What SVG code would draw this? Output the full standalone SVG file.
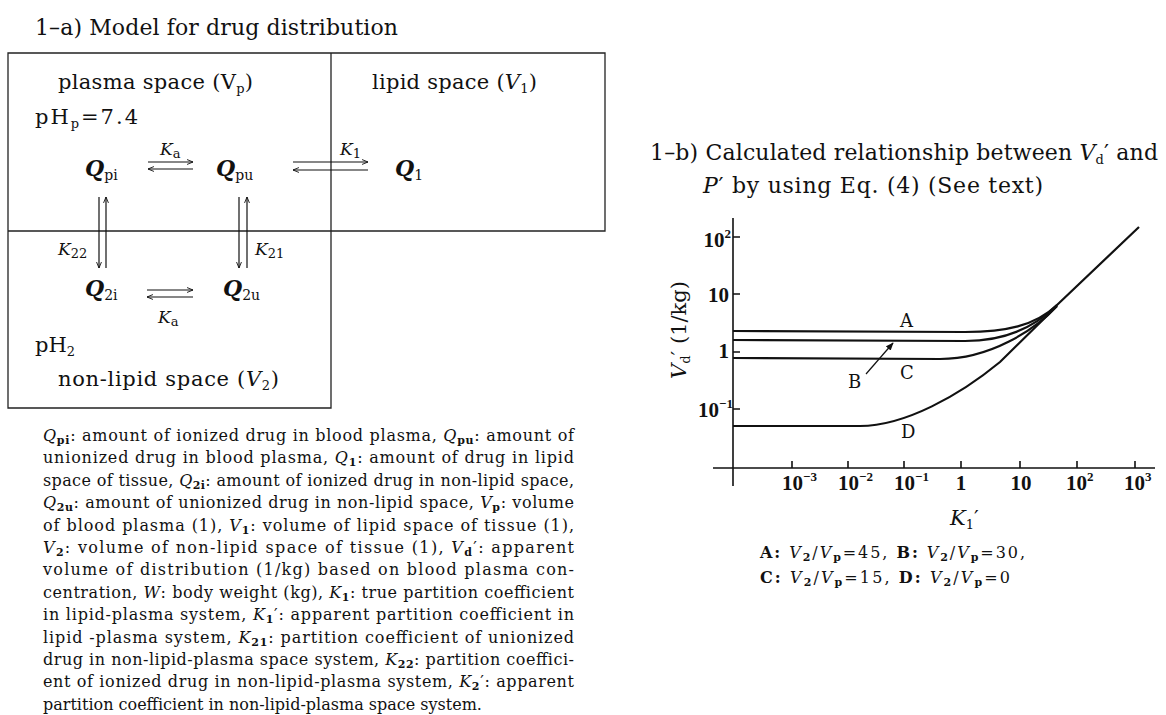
<svg xmlns="http://www.w3.org/2000/svg" width="1166" height="715" viewBox="0 0 1166 715">
<defs>
<marker id="ah" viewBox="0 0 10 10" refX="9.5" refY="5" markerWidth="7" markerHeight="7" orient="auto" markerUnits="userSpaceOnUse">
<path d="M1,1.5 L9.5,5 L1,8.5" fill="none" stroke="#111" stroke-width="1.3"/>
</marker>
<marker id="ahf" viewBox="0 0 10 10" refX="9" refY="5" markerWidth="8" markerHeight="8" orient="auto" markerUnits="userSpaceOnUse">
<path d="M0,1 L10,5 L0,9 Z" fill="#111"/>
</marker>
</defs>
<style>
text { font-family: "DejaVu Serif", "Liberation Serif", serif; fill: #111; }
.title { font-size: 22px; }
.lbl { font-size: 21px; }
.q { font-size: 22px; font-style: italic; font-weight: bold; }
.qs { font-size: 14px; font-style: normal; font-weight: normal; }
.k { font-size: 17px; }
.it { font-style: italic; }
.sub { font-size: 13px; }
.cap { font-size: 16px; }
.cs { font-size: 11px; font-weight: bold; }
.tick { font-family: "Liberation Serif", serif; font-size: 21px; font-weight: bold; }
.sup { font-size: 13px; }
.cl { font-size: 18px; }
.leg { font-size: 16px; }
.frame { fill: none; stroke: #222; stroke-width: 1.3; }
.arr { fill: none; stroke: #111; stroke-width: 1.2; marker-end: url(#ah); }
.axis { fill: none; stroke: #111; stroke-width: 1.6; }
.curve { fill: none; stroke: #111; stroke-width: 2.2; }
</style>
<rect width="1166" height="715" fill="#fff"/>

<!-- Left panel -->
<text id="title-a" class="title" x="35" y="35" textLength="363" lengthAdjust="spacing">1–a) Model for drug distribution</text>

<g id="frame">
<path class="frame" d="M8,53 H605 V231 H8 Z M8,231 V408 H331 V53"/>
</g>

<g id="plasma-space"><text class="lbl" x="58" y="89" textLength="195" lengthAdjust="spacing">plasma space (V<tspan class="sub" dy="4">p</tspan><tspan dy="-4">)</tspan></text></g>
<g id="php"><text class="lbl" x="35" y="124" textLength="103" lengthAdjust="spacing">pH<tspan class="sub" dy="4">p</tspan><tspan dy="-4">=7.4</tspan></text></g>
<g id="lipid-space"><text class="lbl" x="372" y="89" textLength="165" lengthAdjust="spacing">lipid space (<tspan class="it">V</tspan><tspan class="sub" dy="4">1</tspan><tspan dy="-4">)</tspan></text></g>
<g id="node-Qpi"><text class="q" x="85" y="176">Q<tspan class="qs" dy="4">pi</tspan></text></g>
<g id="node-Qpu"><text class="q" x="216" y="176">Q<tspan class="qs" dy="4">pu</tspan></text></g>
<g id="node-Q1"><text class="q" x="395" y="176">Q<tspan class="qs" dy="4">1</tspan></text></g>
<g id="node-Q2i"><text class="q" x="85" y="296">Q<tspan class="qs" dy="4">2i</tspan></text></g>
<g id="node-Q2u"><text class="q" x="223" y="296">Q<tspan class="qs" dy="4">2u</tspan></text></g>
<g id="ph2"><text class="lbl" x="35" y="352">pH<tspan class="sub" dy="4">2</tspan></text></g>
<g id="nonlipid-space"><text class="lbl" x="58" y="386" textLength="221" lengthAdjust="spacing">non-lipid space (<tspan class="it">V</tspan><tspan class="sub" dy="4">2</tspan><tspan dy="-4">)</tspan></text></g>

<g id="connectors">
<line class="arr" x1="148" y1="162" x2="193" y2="162"/>
<line class="arr" x1="193" y1="169" x2="148" y2="169"/>
<line class="arr" x1="293" y1="162" x2="368" y2="162"/>
<line class="arr" x1="368" y1="170" x2="293" y2="170"/>
<line class="arr" x1="99" y1="197" x2="99" y2="268"/>
<line class="arr" x1="106" y1="268" x2="106" y2="197"/>
<line class="arr" x1="239" y1="197" x2="239" y2="268"/>
<line class="arr" x1="247" y1="268" x2="247" y2="197"/>
<line class="arr" x1="147" y1="290" x2="193" y2="290"/>
<line class="arr" x1="193" y1="297" x2="147" y2="297"/>
</g>
<g id="edge-labels">
<text class="k" x="160" y="155"><tspan class="it">K</tspan><tspan class="sub" dy="3">a</tspan></text>
<text class="k" x="340" y="155"><tspan class="it">K</tspan><tspan class="sub" dy="3">1</tspan></text>
<text class="k" x="58" y="255"><tspan class="it">K</tspan><tspan class="sub" dy="3">22</tspan></text>
<text class="k" x="255" y="255"><tspan class="it">K</tspan><tspan class="sub" dy="3">21</tspan></text>
<text class="k" x="158" y="323"><tspan class="it">K</tspan><tspan class="sub" dy="3">a</tspan></text>
</g>

<g id="caption">
<text class="cap" x="43" y="441" textLength="531" lengthAdjust="spacing"><tspan class="it">Q</tspan><tspan class="cs" dy="3">pi</tspan><tspan dy="-3">: amount of ionized drug in blood plasma, </tspan><tspan class="it">Q</tspan><tspan class="cs" dy="3">pu</tspan><tspan dy="-3">: amount of</tspan></text>
<text class="cap" x="43" y="463.4" textLength="531" lengthAdjust="spacing">unionized drug in blood plasma, <tspan class="it">Q</tspan><tspan class="cs" dy="3">1</tspan><tspan dy="-3">: amount of drug in lipid</tspan></text>
<text class="cap" x="43" y="485.8" textLength="531" lengthAdjust="spacing">space of tissue, <tspan class="it">Q</tspan><tspan class="cs" dy="3">2i</tspan><tspan dy="-3">: amount of ionized drug in non-lipid space,</tspan></text>
<text class="cap" x="43" y="508.2" textLength="531" lengthAdjust="spacing"><tspan class="it">Q</tspan><tspan class="cs" dy="3">2u</tspan><tspan dy="-3">: amount of unionized drug in non-lipid space, </tspan><tspan class="it">V</tspan><tspan class="cs" dy="3">p</tspan><tspan dy="-3">: volume</tspan></text>
<text class="cap" x="43" y="530.6" textLength="531" lengthAdjust="spacing">of blood plasma (1), <tspan class="it">V</tspan><tspan class="cs" dy="3">1</tspan><tspan dy="-3">: volume of lipid space of tissue (1),</tspan></text>
<text class="cap" x="43" y="553" textLength="531" lengthAdjust="spacing"><tspan class="it">V</tspan><tspan class="cs" dy="3">2</tspan><tspan dy="-3">: volume of non-lipid space of tissue (1), </tspan><tspan class="it">V</tspan><tspan class="cs" dy="3">d</tspan><tspan dy="-3">′: apparent</tspan></text>
<text class="cap" x="43" y="575.4" textLength="531" lengthAdjust="spacing">volume of distribution (1/kg) based on blood plasma con-</text>
<text class="cap" x="43" y="597.8" textLength="531" lengthAdjust="spacing">centration, <tspan class="it">W</tspan>: body weight (kg), <tspan class="it">K</tspan><tspan class="cs" dy="3">1</tspan><tspan dy="-3">: true partition coefficient</tspan></text>
<text class="cap" x="43" y="620.2" textLength="531" lengthAdjust="spacing">in lipid-plasma system, <tspan class="it">K</tspan><tspan class="cs" dy="3">1</tspan><tspan dy="-3">′: apparent partition coefficient in</tspan></text>
<text class="cap" x="43" y="642.6" textLength="531" lengthAdjust="spacing">lipid -plasma system, <tspan class="it">K</tspan><tspan class="cs" dy="3">21</tspan><tspan dy="-3">: partition coefficient of unionized</tspan></text>
<text class="cap" x="43" y="665" textLength="531" lengthAdjust="spacing">drug in non-lipid-plasma space system, <tspan class="it">K</tspan><tspan class="cs" dy="3">22</tspan><tspan dy="-3">: partition coeffici-</tspan></text>
<text class="cap" x="43" y="687.4" textLength="531" lengthAdjust="spacing">ent of ionized drug in non-lipid-plasma system, <tspan class="it">K</tspan><tspan class="cs" dy="3">2</tspan><tspan dy="-3">′: apparent</tspan></text>
<text class="cap" x="43" y="709.8">partition coefficient in non-lipid-plasma space system.</text>
</g>

<!-- Right panel -->
<g id="title-b">
<text class="title" x="650" y="160" textLength="508" lengthAdjust="spacing">1–b) Calculated relationship between <tspan class="it">V</tspan><tspan class="sub" dy="4">d</tspan><tspan dy="-4">′ and</tspan></text>
<text class="title" x="703" y="193" textLength="340" lengthAdjust="spacing"><tspan class="it">P</tspan>′ by using Eq. (4) (See text)</text>
</g>

<g id="axes">
<path class="axis" d="M733,218 V486 M713,468 H1155"/>
<path class="axis" d="M733,237 H740 M733,294 H740 M733,352 H740 M733,409 H740"/>
<path class="axis" d="M792,468 V461 M848,468 V461 M904,468 V461 M961,468 V461 M1020,468 V461 M1077,468 V461 M1135,468 V461"/>
</g>
<g id="y-ticklabels">
<text class="tick" x="731" y="247" text-anchor="end">10<tspan class="sup" dy="-9">2</tspan></text>
<text class="tick" x="729" y="302" text-anchor="end">10</text>
<text class="tick" x="729" y="358" text-anchor="end">1</text>
<text class="tick" x="733" y="417" text-anchor="end">10<tspan class="sup" dy="-9">−1</tspan></text>
</g>
<g id="x-ticklabels">
<text class="tick" x="782" y="490">10<tspan class="sup" dy="-9">−3</tspan></text>
<text class="tick" x="838" y="490">10<tspan class="sup" dy="-9">−2</tspan></text>
<text class="tick" x="894" y="490">10<tspan class="sup" dy="-9">−1</tspan></text>
<text class="tick" x="961" y="490" text-anchor="middle">1</text>
<text class="tick" x="1021" y="490" text-anchor="middle">10</text>
<text class="tick" x="1066" y="490">10<tspan class="sup" dy="-9">2</tspan></text>
<text class="tick" x="1124" y="490">10<tspan class="sup" dy="-9">3</tspan></text>
</g>
<g id="axis-titles">
<text class="lbl" x="950" y="525"><tspan class="it">K</tspan><tspan class="sub" dy="4">1</tspan><tspan dy="-4">′</tspan></text>
<text class="lbl" transform="translate(686,330) rotate(-90)" text-anchor="middle"><tspan class="it">V</tspan><tspan class="sub" dy="4">d</tspan><tspan dy="-4">′ (1/kg)</tspan></text>
</g>

<g id="curves">
<path id="curve-A" class="curve" d="M733,331 L965,332 C1005,332 1035,326 1057,305 L1139,227"/>
<path id="curve-B" class="curve" d="M733,340 L965,341 C1005,341 1035,327 1057,305"/>
<path id="curve-C" class="curve" d="M733,358 L940,359 C990,359 1035,330 1057,306"/>
<path id="curve-D" class="curve" d="M733,426 L860,426 C905,426 960,395 1000,362 L1057,306"/>
<line x1="866" y1="374" x2="893" y2="343" stroke="#111" stroke-width="1.2" marker-end="url(#ahf)"/>
</g>
<g id="curve-labels">
<text class="cl" x="900" y="327">A</text>
<text class="cl" x="848" y="388">B</text>
<text class="cl" x="900" y="379">C</text>
<text class="cl" x="901" y="438">D</text>
</g>

<g id="legend">
<text class="leg" x="760" y="558" textLength="265" lengthAdjust="spacing"><tspan font-weight="bold">A:</tspan> <tspan class="it">V</tspan><tspan class="cs" dy="3">2</tspan><tspan dy="-3">/</tspan><tspan class="it">V</tspan><tspan class="cs" dy="3">p</tspan><tspan dy="-3">=45, </tspan><tspan font-weight="bold">B:</tspan> <tspan class="it">V</tspan><tspan class="cs" dy="3">2</tspan><tspan dy="-3">/</tspan><tspan class="it">V</tspan><tspan class="cs" dy="3">p</tspan><tspan dy="-3">=30,</tspan></text>
<text class="leg" x="760" y="583" textLength="250" lengthAdjust="spacing"><tspan font-weight="bold">C:</tspan> <tspan class="it">V</tspan><tspan class="cs" dy="3">2</tspan><tspan dy="-3">/</tspan><tspan class="it">V</tspan><tspan class="cs" dy="3">p</tspan><tspan dy="-3">=15, </tspan><tspan font-weight="bold">D:</tspan> <tspan class="it">V</tspan><tspan class="cs" dy="3">2</tspan><tspan dy="-3">/</tspan><tspan class="it">V</tspan><tspan class="cs" dy="3">p</tspan><tspan dy="-3">=0</tspan></text>
</g>
</svg>
